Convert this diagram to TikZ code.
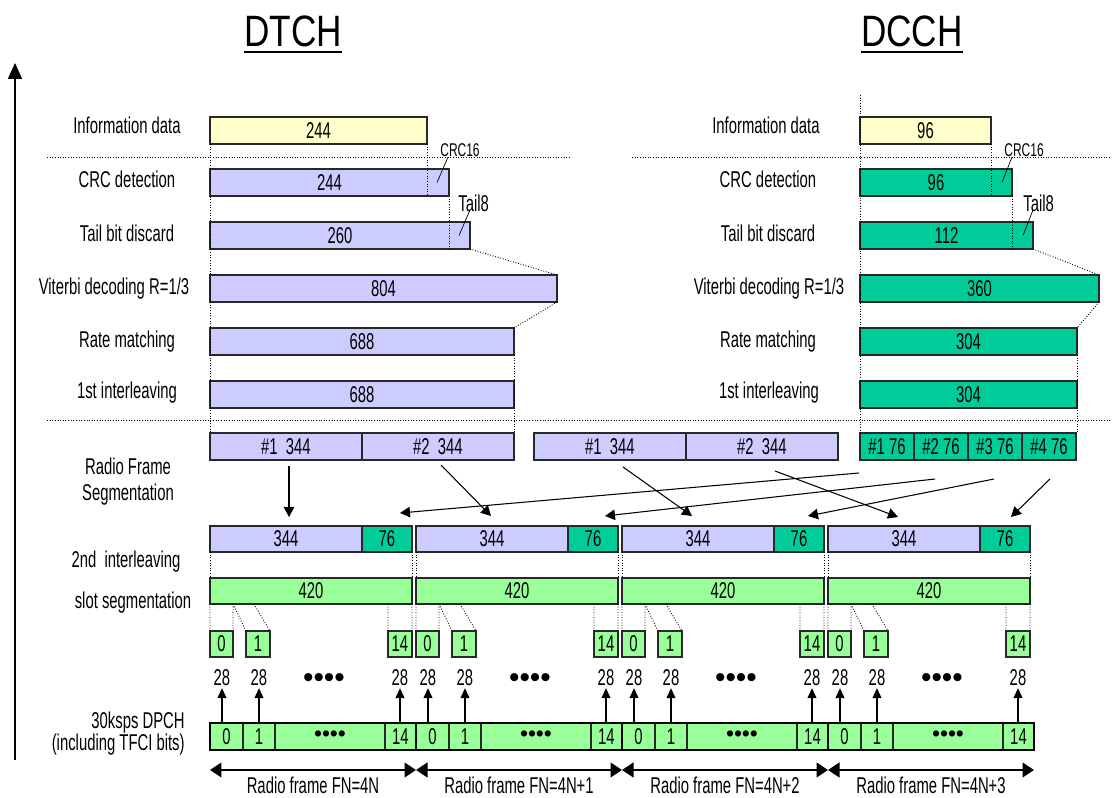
\documentclass[tikz,border=0pt]{standalone}
\usepackage{fontspec}
\setmainfont{Liberation Sans}[FakeStretch=0.65]
\newfontfamily\ttlfont{Liberation Sans}[FakeStretch=0.8]
\newfontfamily\dotfont{Liberation Sans}
\usetikzlibrary{arrows.meta,calc}
\definecolor{paleyellow}{RGB}{255,255,204}
\definecolor{lavender}{RGB}{204,204,255}
\definecolor{jade}{RGB}{0,204,153}
\definecolor{mint}{RGB}{153,255,153}
\definecolor{ink}{RGB}{40,40,40}
\tikzset{
  >={Triangle[length=2mm,width=2.1mm]},
  cell/.style={draw=ink,line width=0.8pt,fill=#1,inner sep=0pt,outer sep=0pt},
  cell/.default=lavender,
  tag/.style={inner sep=0pt,align=center},
  guide/.style={densely dotted,line width=0.5pt},
  feed/.style={->,line width=0.6pt},
  rise/.style={-{Triangle[length=2mm,width=1.8mm]},line width=0.6pt},
  span/.style={{Triangle[length=2.3mm,width=3mm]}-{Triangle[length=2.3mm,width=3mm]},line width=0.7pt},
  headline/.style={font=\ttlfont\fontsize{25}{28}\selectfont,inner xsep=0pt,anchor=base},
  dpframe/.style={draw=black,line width=1.6pt,inner sep=0pt,outer sep=0pt},
}
% block between the corners (x1,y1) and (x2,y2), in pixel units
\newcommand\blk[7]{%
  \node[cell=#2,minimum width={((#5)-(#3))*0.2mm},minimum height={((#6)-(#4))*0.2mm}]
    (#1) at ({((#3)+(#5))/2},{((#4)+(#6))/2}) {#7};}

\begin{document}
\begin{tikzpicture}[x=0.2mm,y=-0.2mm,font=\fontsize{13}{15}\selectfont]
  \useasboundingbox (0,0) rectangle (1112,798);
  % headings
  \node[headline] (hD) at (293,47) {DTCH};
  \node[headline] (hC) at (912,47) {DCCH};
  \draw[line width=1.6pt] ([yshift=-1mm]hD.base west) -- ([yshift=-1mm]hD.base east);
  \draw[line width=1.6pt] ([yshift=-1mm]hC.base west) -- ([yshift=-1mm]hC.base east);
  % time axis
  \coordinate (ax0) at (15,760);
  \coordinate (ax1) at (15,63);
  \draw[-{Triangle[length=3.2mm,width=2.8mm]},line width=0.9pt] (ax0) -- (ax1);
  % separators
  \coordinate (sep1a) at (47,157);  \coordinate (sep1b) at (569,157);
  \coordinate (sep2a) at (632,157); \coordinate (sep2b) at (1112,157);
  \coordinate (sep3a) at (47,420);  \coordinate (sep3b) at (1112,420);
  \draw[guide] (sep1a) -- (sep1b) (sep2a) -- (sep2b) (sep3a) -- (sep3b);

  % step names
  \foreach \t/\xa/\xb/\y [count=\i] in {Information data/127/766/134, CRC detection/127/768/188,
    Tail bit discard/127/768/242, {Viterbi decoding R=1/3}/114/769/295,
    Rate matching/127/768/348, 1st interleaving/127/769/399}
  {
    \node[tag,anchor=base] (la\i) at (\xa,\y) {\t};
    \node[tag,anchor=base] (lc\i) at (\xb,\y) {\t};
  }

  % DTCH blocks
  \blk{aInfo}{paleyellow}{210}{117}{427}{144}{244}
  \foreach \n/\y/\r/\v in {Crc/169/449/244,Tail/222/470/260,Vit/275/557/804,Rate/328/514/688,Il/381/514/688}
    {\blk{a\n}{lavender}{210}{\y}{\r}{\y+27}{\v}}
  % DCCH blocks
  \blk{cInfo}{paleyellow}{860}{117}{991}{144}{96}
  \foreach \n/\y/\r/\v in {Crc/169/1012/96,Tail/222/1033/112,Vit/275/1099/360,Rate/328/1077/304,Il/381/1077/304}
    {\blk{c\n}{jade}{860}{\y}{\r}{\y+27}{\v}}

  \foreach \ch in {a,c}{
    \draw[guide] (\ch Info.south east) -- (\ch Info.south east |- \ch Crc.south);
    \draw[guide] (\ch Crc.south east) -- (\ch Crc.south east |- \ch Tail.south);
    \draw[guide] (\ch Tail.south east) -- (\ch Vit.north east);
    \draw[guide] (\ch Vit.south east) -- (\ch Rate.north east);
  }

  % CRC and tail marks
  \node[tag,anchor=base west,font=\fontsize{10.5}{12}\selectfont] (aCrcTag) at (440,157) {CRC16};
  \node[tag,anchor=base west] (aTailTag) at (458,212) {Tail8};
  \node[tag,anchor=base west,font=\fontsize{10.5}{12}\selectfont] (cCrcTag) at (1004,157) {CRC16};
  \node[tag,anchor=base west] (cTailTag) at (1023,212) {Tail8};
  \draw ($(aCrcTag.base west)+(8,0)$) -- ($(aCrc.east)+(-12,0)$);
  \draw ($(aTailTag.base west)+(12,-2)$) -- ($(aTail.east)+(-11,0)$);
  \draw ($(cCrcTag.base west)+(8,0)$) -- ($(cCrc.east)+(-10,0)$);
  \draw ($(cTailTag.base west)+(10,-2)$) -- ($(cTail.east)+(-10,0)$);

  % radio frame segmentation
  \blk{s1}{lavender}{210}{433}{362}{460}{\#1\ \ 344}
  \blk{s2}{lavender}{362}{433}{514}{460}{\#2\ \ 344}
  \blk{m1}{lavender}{534}{433}{686}{460}{\#1\ \ 344}
  \blk{m2}{lavender}{686}{433}{838}{460}{\#2\ \ 344}
  \foreach \k in {1,...,4}
    {\blk{d\k}{jade}{860+54*(\k-1)}{433}{860+54*\k}{460}{\#\k\ 76}}
  \draw[guide] (aInfo.south west) -- (aInfo.south west |- s1.north);
  \draw[guide] (aRate.south east) -- (aRate.south east |- s2.north);
  \draw[guide] ([yshift=4.4mm]cInfo.north west) -- (cInfo.south west |- d1.north);
  \draw[guide] (cRate.south east) -- (cRate.south east |- d4.north);

  \node[tag,font=\fontsize{13}{14.8}\selectfont] (lRfs) at (128,482) {Radio Frame\\Segmentation};
  \node[tag] (lIl2) at (126,562) {2nd\ \ interleaving};
  \node[tag] (lSlot) at (133,603) {slot segmentation};
  \node[tag,align=right,anchor=east,font=\fontsize{13}{12.5}\selectfont] (lDpch) at (185,734)
    {30ksps DPCH\\(including TFCI bits)};

  % four radio frames
  \foreach \f/\fn in {1/4N,2/4N+1,3/4N+2,4/4N+3}{
    \pgfmathsetmacro\lx{210+206*(\f-1)}
    \blk{p\f}{lavender}{\lx}{526}{\lx+152}{552}{344}
    \blk{q\f}{jade}{\lx+152}{526}{\lx+202}{552}{76}
    \blk{g\f}{mint}{\lx}{578}{\lx+202}{604}{420}
    \draw[guide] (p\f.south west) -- (g\f.north west);
    \draw[guide] (q\f.south east) -- (g\f.north east);
    % slots
    \blk{z\f a}{mint}{\lx}{631}{\lx+23}{657}{0}
    \blk{z\f b}{mint}{\lx+36}{631}{\lx+60}{657}{1}
    \blk{z\f c}{mint}{\lx+178}{631}{\lx+202}{657}{14}
    \draw[guide] (z\f a.north west |- g\f.south) -- (z\f a.north west)
                 (z\f a.north east |- g\f.south) -- (z\f a.north east)
                 ($(g\f.south west)+(23,0)$) -- (z\f b.north west)
                 ($(g\f.south west)+(44,0)$) -- (z\f b.north east)
                 (z\f c.north west |- g\f.south) -- (z\f c.north west)
                 (z\f c.north east |- g\f.south) -- (z\f c.north east);
    % DPCH
    \blk{e\f a}{mint}{\lx}{723}{\lx+33}{750}{0}
    \blk{e\f b}{mint}{\lx+33}{723}{\lx+65}{750}{1}
    \blk{e\f c}{mint}{\lx+65}{723}{\lx+175}{750}{\dotfont\fontsize{13}{13}\selectfont ••••}
    \blk{e\f d}{mint}{\lx+175}{723}{\lx+206}{750}{14}
    \node[dpframe,minimum width=41.2mm,minimum height=5.4mm] (dp\f) at ({\lx+103},736.5) {};
    \foreach \dx/\s in {12/a,49/b,190/c}{
      \node[tag,inner sep=1pt] (w\f\s) at ({\lx+\dx},678) {28};
      \draw[rise] (w\f\s.south |- e\f a.north) -- (w\f\s.south);
    }
    \node[tag,font=\dotfont\fontsize{17}{18}\selectfont] (dots\f) at ({\lx+114},681) {••••};
    \draw[span] ([yshift=-4mm]dp\f.south west) -- ([yshift=-4mm]dp\f.south east);
    \node[tag] (rf\f) at ({\lx+103},785) {Radio frame FN=\fn};
  }

  % segments into the frames
  \foreach \a/\ax/\ay/\b/\bx/\by in {s1/3/6/p1/3/-9, s2/3/5/p2/-1/-10, m1/13/7/p3/-6/-10,
    m2/13/11/p4/-6/-9, d1/-28/13/q1/13/-13, d2/-6/19/q2/12/-10, d3/-1/19/q3/9/-10, d4/1/19/q4/6/-9}
    \draw[feed] ($(\a.south)+(\ax,\ay)$) -- ($(\b.north)+(\bx,\by)$);
\end{tikzpicture}
\end{document}
